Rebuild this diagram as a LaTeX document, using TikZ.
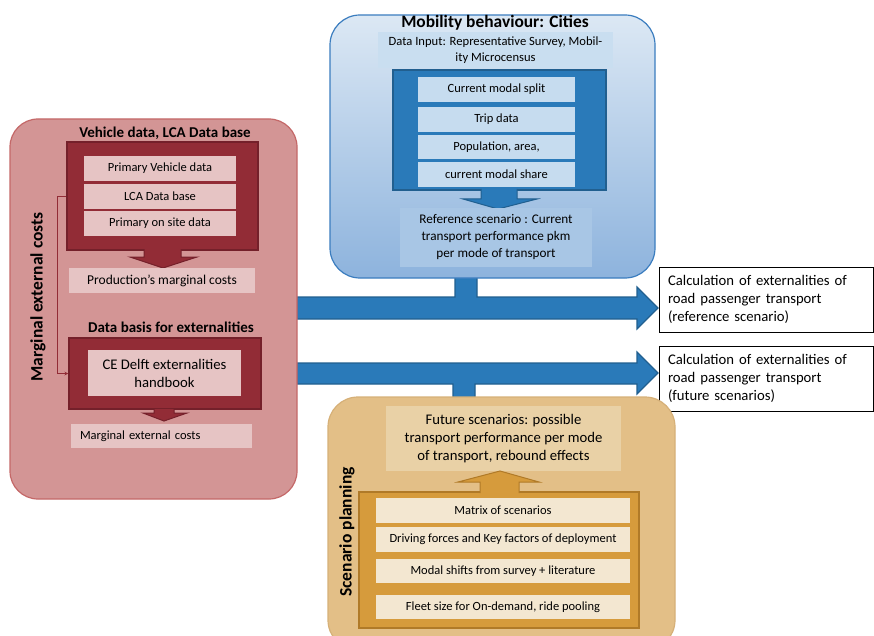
\documentclass[tikz,border=0pt]{standalone}
\usepackage{fontspec}
\setmainfont{Carlito}
\usetikzlibrary{positioning}

\definecolor{redbg}{HTML}{D39595}
\definecolor{redln}{HTML}{C46868}
\definecolor{reddk}{HTML}{922C36}
\definecolor{reddkln}{HTML}{74202A}
\definecolor{redlt}{HTML}{E6C4C4}
\definecolor{bluetop}{HTML}{DCE8F4}
\definecolor{bluebot}{HTML}{8DB3DD}
\definecolor{blueln}{HTML}{3B7DBF}
\definecolor{bluedk}{HTML}{2A7AB9}
\definecolor{bluedkln}{HTML}{215F8F}
\definecolor{bluelt}{HTML}{C6DCEF}
\definecolor{bluemid}{HTML}{A8C6E5}
\definecolor{tanbg}{HTML}{E3BF87}
\definecolor{tanln}{HTML}{D6B078}
\definecolor{tanlt}{HTML}{E9D1A6}
\definecolor{orng}{HTML}{D69B3C}
\definecolor{orngln}{HTML}{B07A28}
\definecolor{ornglt}{HTML}{F3E7D1}

\begin{document}
\begin{tikzpicture}[x=1pt, y=-1pt, >=stealth,
    head/.style={font=\fontsize{15}{17}\selectfont\bfseries, inner sep=0pt},
    vlab/.style={font=\fontsize{17.5}{19}\selectfont\bfseries, inner sep=0pt, rotate=90},
    txt/.style={font=\fontsize{12.5}{14}\selectfont, inner sep=0pt, align=center},
    bigtxt/.style={font=\fontsize{14.7}{18.3}\selectfont, inner sep=0pt, align=center},
    redbox/.style={draw=reddkln, fill=reddk, line width=1.5pt},
    blubox/.style={draw=bluedkln, fill=bluedk, line width=1.5pt},
    orgbox/.style={draw=orngln, fill=orng, line width=1.5pt},
    calc/.style={draw=black, line width=0.7pt, fill=white, font=\fontsize{14.7}{18}\selectfont,
        align=left, text width=196pt, inner xsep=9pt, minimum height=65pt}]
\useasboundingbox (0,0) rectangle (874,636);

% arrows to the results
\draw[fill=bluedk, draw=bluedkln, line width=1.2pt] (297,297) -- (455,297) -- (455,276) -- (477,276)
    -- (477,297) -- (637,297) -- (637,287) -- (658,308) -- (637,329) -- (637,319) -- (297,319) -- cycle;
\draw[fill=bluedk, draw=bluedkln, line width=1.2pt] (297,363) -- (637,363) -- (637,352) -- (658,373)
    -- (637,394) -- (637,384) -- (475,384) -- (475,398) -- (453,398) -- (453,384) -- (297,384) -- cycle;

% marginal external costs
\draw[fill=redbg, draw=redln, line width=1.2pt, rounded corners=28pt] (10,119) rectangle (297,499);
\node[vlab] (mlab) at (38,297) {Marginal external costs};
\node[head] (vhead) at (165,133) {Vehicle data, LCA Data base};
\node[redbox, minimum width=191pt, minimum height=108pt] (vbox) at (162.5,196) {};
\node[txt, fill=redlt, minimum width=152pt, minimum height=25pt] (pvd) at (160,168.5) {Primary Vehicle data};
\node[txt, fill=redlt, minimum width=152pt, minimum height=25pt] (lca) at (160,196.5) {LCA Data base};
\node[txt, fill=redlt, minimum width=152pt, minimum height=25pt] (osd) at (160,223.5) {Primary on site data};
\draw[fill=reddk, draw=reddkln, line width=1pt] (144,249) -- (144,257) -- (130,257) -- (163,268)
    -- (197,257) -- (181,257) -- (181,249);
\node[txt, font=\fontsize{13.5}{15}\selectfont, fill=redlt, minimum width=186pt, minimum height=25pt] (prod) at (162,280.5) {Production’s marginal  costs};
\node[head] (dhead) at (171,327) {Data basis for externalities};
\node[redbox, minimum width=192pt, minimum height=71pt] (cebox) at (165,373.5) {};
\node[bigtxt, font=\fontsize{14.7}{18}\selectfont, fill=redlt, minimum width=153pt, minimum height=46pt] (ce) at (164.5,373) {CE Delft externalities\\handbook};
\draw[fill=reddk, draw=reddkln, line width=1pt] (154,409) -- (154,413) -- (143,413) -- (164,421)
    -- (187,413) -- (174,413) -- (174,409);
\node[txt, fill=redlt, minimum width=181pt, minimum height=24pt, text width=163pt, inner xsep=9pt, align=left] (mec) at (161.5,436) {Marginal external costs};
\draw[->, draw=reddk, line width=0.7pt] (vbox.west) -- ++(-9,0) |- (cebox.west);

% mobility behaviour
\draw[top color=bluetop, bottom color=bluebot, draw=blueln, line width=1.2pt, rounded corners=30pt] (330,15) rectangle (655,278);
\node[head, font=\fontsize{17.4}{19}\selectfont\bfseries] (mhead) at (495,23) {Mobility behaviour: Cities};
\node[txt, font=\fontsize{12.6}{16}\selectfont, fill=bluelt!85!bluetop, minimum width=235pt, minimum height=36pt] (din) at (495.5,50) {Data Input: Representative Survey, Mobil-\\ity Microcensus};
\node[blubox, minimum width=213pt, minimum height=120pt] (mbox) at (499.5,130) {};
\node[txt, fill=bluelt, minimum width=157pt, minimum height=25pt] (split) at (496.5,89.5) {Current modal split};
\node[txt, fill=bluelt, minimum width=157pt, minimum height=25pt] (trip) at (496.5,119.5) {Trip data};
\node[txt, fill=bluelt, minimum width=157pt, minimum height=24pt] (pop) at (496.5,147) {Population, area,};
\node[txt, fill=bluelt, minimum width=157pt, minimum height=25pt] (share) at (496.5,174.5) {current modal share};
\draw[fill=bluedk, draw=bluedkln, line width=1pt] (481,189) -- (481,199) -- (463,199) -- (498,209)
    -- (537,199) -- (517,199) -- (517,189);
\node[bigtxt, font=\fontsize{13.2}{17}\selectfont, fill=bluemid, minimum width=192pt, minimum height=59pt] (refsc) at (496,237.5) {Reference scenario : Current\\transport performance pkm\\per mode of transport};

% results
\node[calc] (res1) at (766,299.5) {Calculation of externalities of\\road passenger transport\\(reference scenario)};
\node[calc] (res2) at (766,378.5) {Calculation of externalities of\\road passenger transport\\(future scenarios)};

% scenario planning
\draw[fill=tanbg, draw=tanln, line width=1.2pt, rounded corners=30pt] (328,397) rectangle (675,650);
\node[vlab] (slab) at (347,532) {Scenario planning};
\node[bigtxt, fill=tanlt, minimum width=235pt, minimum height=65pt] (fut) at (503.5,438.5) {Future scenarios: possible\\transport performance per mode\\of transport, rebound effects};
\node[orgbox, minimum width=280pt, minimum height=136pt] (sbox) at (499,560) {};
\draw[fill=orng, draw=orngln, line width=1pt] (480,493) -- (480,482) -- (458,482) -- (500,471)
    -- (539,482) -- (519,482) -- (519,493);
\node[txt, fill=ornglt, minimum width=254pt, minimum height=25pt] (mat) at (503,510.5) {Matrix of scenarios};
\node[txt, fill=ornglt, minimum width=254pt, minimum height=25pt] (drv) at (503,539.5) {Driving forces and Key factors of deployment};
\node[txt, fill=ornglt, minimum width=254pt, minimum height=24pt] (shift) at (503,571) {Modal shifts from survey + literature};
\node[txt, fill=ornglt, minimum width=254pt, minimum height=24pt] (fleet) at (503,607) {Fleet size for On-demand, ride pooling};
\end{tikzpicture}
\end{document}
